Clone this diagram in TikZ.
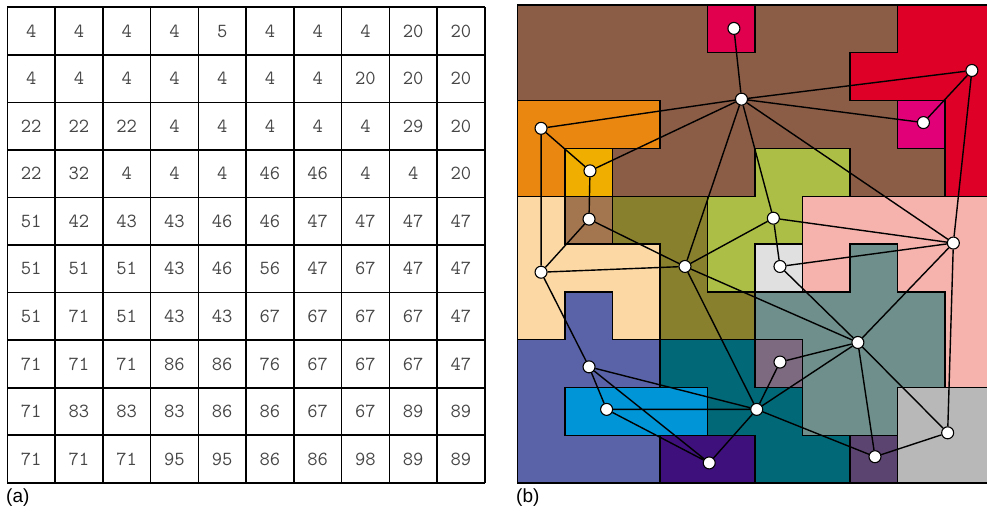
\documentclass[tikz,border=0pt]{standalone}
\usepackage{fontspec}
\newfontfamily\panelfont{Liberation Sans}
\usepackage{tikz}
\definecolor{regbrown}{RGB}{139,92,70}
\definecolor{regcrimson}{RGB}{224,0,78}
\definecolor{regred}{RGB}{222,0,38}
\definecolor{regmagenta}{RGB}{226,0,120}
\definecolor{regorange}{RGB}{234,135,16}
\definecolor{reggold}{RGB}{240,174,0}
\definecolor{regtan}{RGB}{163,118,80}
\definecolor{regolive}{RGB}{137,128,46}
\definecolor{reglime}{RGB}{173,190,70}
\definecolor{regpink}{RGB}{246,178,172}
\definecolor{regpeach}{RGB}{251,216,164}
\definecolor{reglightgray}{RGB}{224,224,224}
\definecolor{regsage}{RGB}{110,143,139}
\definecolor{regslate}{RGB}{90,99,168}
\definecolor{regmauve}{RGB}{125,106,128}
\definecolor{regsky}{RGB}{0,149,214}
\definecolor{regteal}{RGB}{0,104,118}
\definecolor{regsilver}{RGB}{184,184,184}
\definecolor{regindigo}{RGB}{62,16,124}
\definecolor{regplum}{RGB}{92,68,112}
\definecolor{numgray}{RGB}{70,70,70}

\tikzset{
  cellnum/.style={font=\ttfamily\fontsize{20}{20}\selectfont, text=numgray, inner sep=0pt},
  region/.style={draw=black, line width=1.4pt},
  vert/.style={circle, draw=black, fill=white, line width=1.1pt, minimum size=12pt, inner sep=0pt},
  edge/.style={line width=1.4pt},
  panellabel/.style={font=\panelfont\fontsize{19}{19}\selectfont, anchor=west, inner sep=0pt}
}

\begin{document}
\begin{tikzpicture}[x=1pt,y=-1pt]
    \useasboundingbox (0,0) rectangle (987,513);

    % (a) the labelled grid
    \begin{scope}[shift={(7.3,7.3)},x=47.75pt,y=-47.55pt]
    \foreach \row [count=\r from 0] in {{4,4,4,4,5,4,4,4,20,20},{4,4,4,4,4,4,4,20,20,20},{22,22,22,4,4,4,4,4,29,20},{22,32,4,4,4,46,46,4,4,20},{51,42,43,43,46,46,47,47,47,47},{51,51,51,43,46,56,47,67,47,47},{51,71,51,43,43,67,67,67,67,47},{71,71,71,86,86,76,67,67,67,47},{71,83,83,83,86,86,67,67,89,89},{71,71,71,95,95,86,86,98,89,89}}
      \foreach \v [count=\c from 0] in \row
        \node[cellnum] (a-\r-\c) at (\c+0.5,\r+0.5) {\v};
    \foreach \i in {0,...,10} {
      \draw[line width=1.6pt] (\i,0) -- (\i,10);
      \draw[line width=1.6pt] (0,\i) -- (10,\i);
    }
    \end{scope}
    \node[panellabel] (lbla) at (6,498) {(a)};

    % (b) the regions and their graph
    \begin{scope}[shift={(517.3,5)},x=47.5pt,y=-47.8pt]
    \fill[regbrown] (0,0) rectangle (10,10);
    \draw[region, fill=regcrimson] (4,0) rectangle (5,1);
    \draw[region, fill=regred] (8,0) -- (10,0) -- (10,4) -- (9,4) -- (9,2) -- (7,2) -- (7,1) -- (8,1) -- cycle;
    \draw[region, fill=regmagenta] (8,2) rectangle (9,3);
    \draw[region, fill=regorange] (0,2) -- (3,2) -- (3,3) -- (1,3) -- (1,4) -- (0,4) -- cycle;
    \draw[region, fill=reggold] (1,3) rectangle (2,4);
    \draw[region, fill=reglime] (5,3) -- (7,3) -- (7,4) -- (6,4) -- (6,5) -- (5,5) -- (5,6) -- (4,6) -- (4,4) -- (5,4) -- cycle;
    \draw[region, fill=regtan] (1,4) rectangle (2,5);
    \draw[region, fill=regolive] (2,4) -- (4,4) -- (4,6) -- (5,6) -- (5,7) -- (3,7) -- (3,5) -- (2,5) -- cycle;
    \draw[region, fill=regpink] (6,4) -- (10,4) -- (10,8) -- (9,8) -- (9,6) -- (8,6) -- (8,5) -- (7,5) -- (7,6) -- (6,6) -- cycle;
    \draw[region, fill=regpeach] (0,4) -- (1,4) -- (1,5) -- (3,5) -- (3,7) -- (2,7) -- (2,6) -- (1,6) -- (1,7) -- (0,7) -- cycle;
    \draw[region, fill=reglightgray] (5,5) rectangle (6,6);
    \draw[region, fill=regsage] (7,5) -- (8,5) -- (8,6) -- (9,6) -- (9,8) -- (8,8) -- (8,9) -- (6,9) -- (6,7) -- (5,7) -- (5,6) -- (7,6) -- cycle;
    \draw[region, fill=regslate] (1,6) -- (2,6) -- (2,7) -- (3,7) -- (3,8) -- (1,8) -- (1,9) -- (3,9) -- (3,10) -- (0,10) -- (0,7) -- (1,7) -- cycle;
    \draw[region, fill=regsky] (1,8) rectangle (4,9);
    \draw[region, fill=regteal] (3,7) -- (5,7) -- (5,8) -- (6,8) -- (6,9) -- (7,9) -- (7,10) -- (5,10) -- (5,9) -- (4,9) -- (4,8) -- (3,8) -- cycle;
    \draw[region, fill=regmauve] (5,7) rectangle (6,8);
    \draw[region, fill=regsilver] (8,8) rectangle (10,10);
    \draw[region, fill=regindigo] (3,9) rectangle (5,10);
    \draw[region, fill=regplum] (7,9) rectangle (8,10);
    \draw[region] (0,0) rectangle (10,10);

    \node[vert] (n4) at (4.72,1.97) {};
    \node[vert] (n5) at (4.56,0.49) {};
    \node[vert] (n20) at (9.57,1.37) {};
    \node[vert] (n29) at (8.55,2.46) {};
    \node[vert] (n22) at (0.50,2.58) {};
    \node[vert] (n32) at (1.53,3.47) {};
    \node[vert] (n42) at (1.51,4.48) {};
    \node[vert] (n46) at (5.39,4.46) {};
    \node[vert] (n47) at (9.18,4.98) {};
    \node[vert] (n51) at (0.50,5.59) {};
    \node[vert] (n43) at (3.53,5.47) {};
    \node[vert] (n56) at (5.53,5.47) {};
    \node[vert] (n67) at (7.17,7.06) {};
    \node[vert] (n76) at (5.53,7.47) {};
    \node[vert] (n71) at (1.51,7.57) {};
    \node[vert] (n83) at (1.88,8.46) {};
    \node[vert] (n86) at (5.04,8.46) {};
    \node[vert] (n89) at (9.06,8.95) {};
    \node[vert] (n95) at (4.04,9.58) {};
    \node[vert] (n98) at (7.53,9.45) {};

    \draw[edge] (n5) -- (n4) (n4) -- (n22) (n4) -- (n32) (n4) -- (n20) (n4) -- (n29)
      (n4) -- (n46) (n4) -- (n43) (n4) -- (n47) (n20) -- (n29) (n20) -- (n47);
    \draw[edge] (n22) -- (n32) (n22) -- (n51) (n32) -- (n42) (n42) -- (n43) (n42) -- (n51)
      (n43) -- (n51) (n43) -- (n46) (n43) -- (n67) (n43) -- (n86);
    \draw[edge] (n46) -- (n47) (n46) -- (n56) (n47) -- (n56) (n47) -- (n67) (n47) -- (n89)
      (n56) -- (n67) (n67) -- (n76) (n67) -- (n86) (n67) -- (n98) (n67) -- (n89) (n76) -- (n86);
    \draw[edge] (n51) -- (n71) (n71) -- (n83) (n71) -- (n86) (n71) -- (n95) (n83) -- (n86)
      (n83) -- (n95) (n86) -- (n95) (n86) -- (n98) (n98) -- (n89);
    \end{scope}
    \node[panellabel] (lblb) at (516,498) {(b)};
\end{tikzpicture}
\end{document}
